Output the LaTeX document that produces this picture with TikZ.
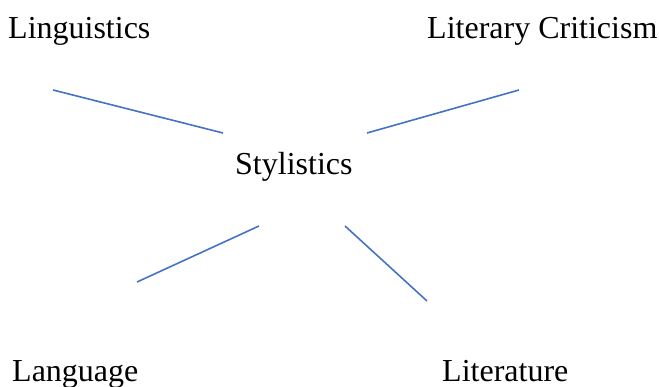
\documentclass[tikz,border=0pt]{standalone}
\usepackage{fontspec}
\setmainfont{Liberation Serif}
\newfontfamily\timesfont{Liberation Serif}
\definecolor{lineblue}{HTML}{4472C4}
\begin{document}
\begin{tikzpicture}[x=1pt,y=-1pt,
  lbl/.style={anchor=base west,inner sep=0pt,font=\timesfont\fontsize{32}{38}\selectfont},
  link/.style={draw=lineblue,line width=1.6pt}]
\useasboundingbox (0,0) rectangle (659,387);
\node[lbl] (ling) at (8,39) {Linguistics};
\node[lbl] (lit) at (427,39) {Literary Criticism};
\node[lbl] (sty) at (235,175) {Stylistics};
\node[lbl] (lang) at (12,382) {Language};
\node[lbl] (litr) at (442,382) {Literature};
\coordinate (a1) at (53,90);  \coordinate (a2) at (223,133);
\coordinate (b1) at (367,133); \coordinate (b2) at (519,90);
\coordinate (c1) at (137,282); \coordinate (c2) at (259,226);
\coordinate (d1) at (345,226); \coordinate (d2) at (427,301);
\draw[link] (a1) -- (a2);
\draw[link] (b1) -- (b2);
\draw[link] (c1) -- (c2);
\draw[link] (d1) -- (d2);
\end{tikzpicture}
\end{document}
